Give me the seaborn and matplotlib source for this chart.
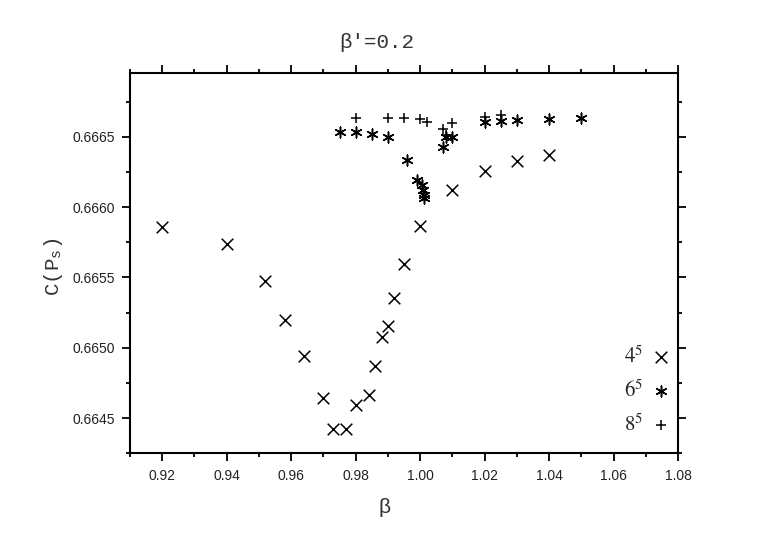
import matplotlib
matplotlib.use("Agg")
import matplotlib.pyplot as plt
import seaborn as sns
import pandas as pd
from matplotlib.ticker import MultipleLocator, FormatStrFormatter

# ---- data ----
beta_4 = [0.920, 0.940, 0.952, 0.958, 0.964, 0.970, 0.973, 0.977, 0.980, 0.984,
          0.986, 0.988, 0.990, 0.992, 0.995, 1.000, 1.010, 1.020, 1.030, 1.040]
c_4 = [0.665861, 0.665740, 0.665475, 0.665196, 0.664942, 0.664642, 0.664426, 0.664426,
       0.664592, 0.664665, 0.664874, 0.665080, 0.665156, 0.665357, 0.665596, 0.665866,
       0.666119, 0.666256, 0.666327, 0.666370]

beta_6 = [0.975, 0.980, 0.985, 0.990, 0.996, 0.999, 1.0005, 1.0010, 1.0012, 1.0013,
          1.007, 1.008, 1.010, 1.020, 1.025, 1.030, 1.040, 1.050]
c_6 = [0.666536, 0.666536, 0.666519, 0.666496, 0.666334, 0.666192, 0.666156, 0.666121,
       0.666086, 0.666062, 0.666429, 0.666500, 0.666496, 0.666607, 0.666614, 0.666619,
       0.666624, 0.666631]

beta_8 = [0.980, 0.990, 0.995, 1.000, 1.002, 1.007, 1.008, 1.010, 1.020, 1.025]
c_8 = [0.666633, 0.666633, 0.666633, 0.666628, 0.666605, 0.666553, 0.666515, 0.666596,
       0.666642, 0.666654]

labels = ["$4^5$", "$6^5$", "$8^5$"]
title = "β'=0.2"
xlabel = "β"
ylabel = "C(P$_{\\mathregular{s}}$)"

# ---- style ----
sns.set_style("ticks")
plt.rcParams["font.family"] = ["Liberation Sans", "DejaVu Sans"]
plt.rcParams["mathtext.fontset"] = "stix"

fig = plt.figure(figsize=(7.82, 5.45), dpi=100)
ax = fig.add_axes([0.1662, 0.1682, 0.7011, 0.6972])

series = [(beta_4, c_4, "x", 70), (beta_6, c_6, (6, 2, 0), 60), (beta_8, c_8, "+", 60)]
for (bx, cy, mk, s), lab in zip(series, labels):
    df = pd.DataFrame({"beta": bx, "C": cy})
    sns.scatterplot(data=df, x="beta", y="C", marker=mk, s=s, color="black",
                    linewidth=1.1, label=lab, ax=ax)

ax.set_xlim(0.91, 1.08)
ax.set_ylim(0.66425, 0.66695)
ax.xaxis.set_major_locator(MultipleLocator(0.02))
ax.xaxis.set_minor_locator(MultipleLocator(0.01))
ax.yaxis.set_major_locator(MultipleLocator(0.0005))
ax.yaxis.set_minor_locator(MultipleLocator(0.00025))
ax.xaxis.set_major_formatter(FormatStrFormatter("%.2f"))
ax.yaxis.set_major_formatter(FormatStrFormatter("%.4f"))

for sp in ax.spines.values():
    sp.set_visible(True)
    sp.set_linewidth(1.5)
    sp.set_color("black")

ax.tick_params(which="both", direction="out", top=True, right=True,
               labeltop=False, labelright=False, width=1.3, color="black",
               labelsize=10, labelcolor="#222222", pad=5)
ax.tick_params(which="major", length=6)
ax.tick_params(which="minor", length=3)

ax.set_xlabel(xlabel, fontsize=15, color="#333333")
ax.xaxis.set_label_coords(0.465, -0.118)
ax.set_ylabel(ylabel, fontsize=15, color="#333333", family="Liberation Mono")
ax.yaxis.set_label_coords(-0.119, 0.49)

fig.text(377 / 782, 1 - 42.7 / 545, title, ha="center", va="center",
         fontsize=15, color="#333333", family="Liberation Mono")

leg = ax.legend(frameon=False, markerfirst=False, loc="lower right",
                bbox_to_anchor=(1.021, -0.001), prop={"size": 15},
                labelspacing=0.6, handletextpad=0.35, handlelength=1.0)

fig.savefig("out.png", dpi=100)
